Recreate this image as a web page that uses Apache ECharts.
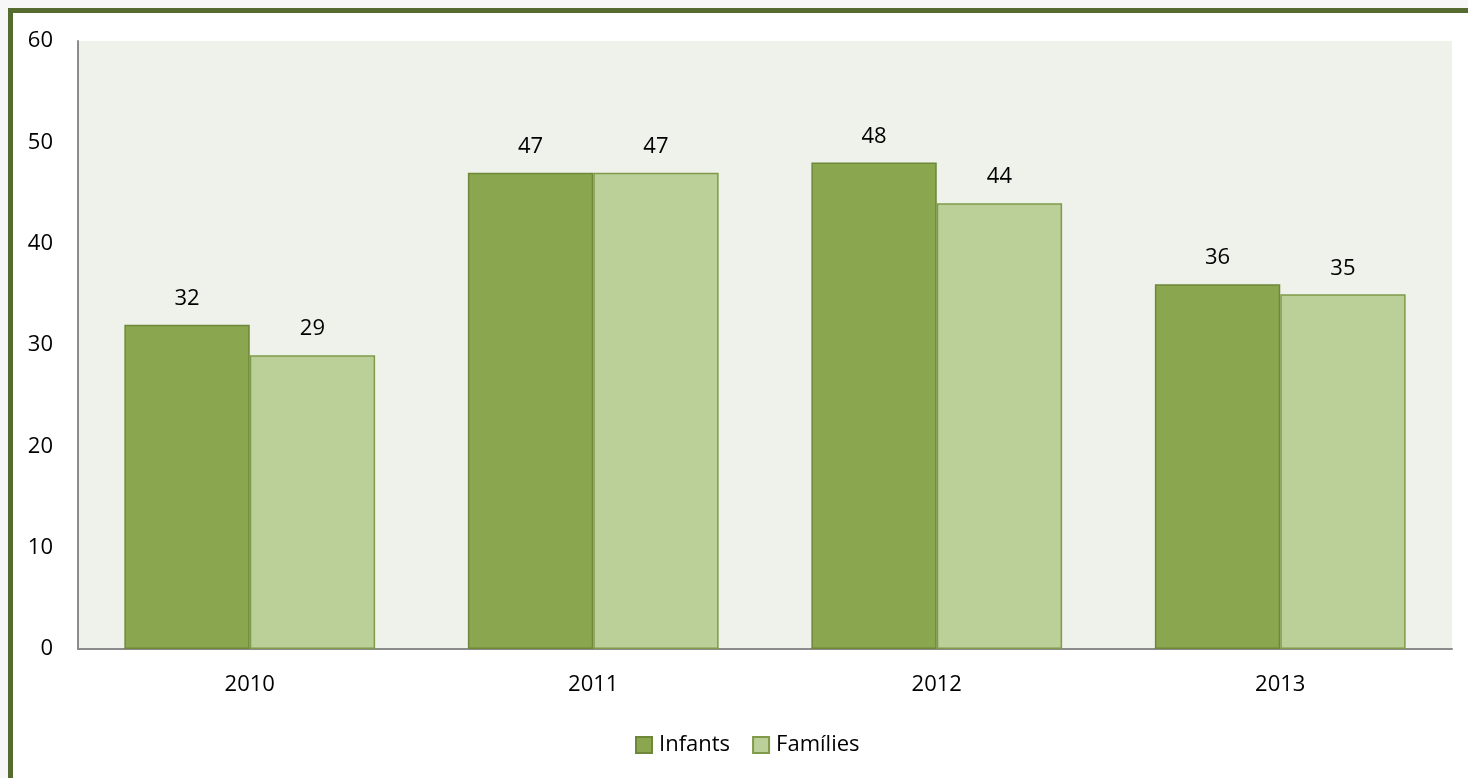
<!DOCTYPE html>
<html>
<head>
<meta charset="utf-8">
<script src="https://cdn.jsdelivr.net/npm/echarts@6/dist/echarts.min.js"></script>
<style>
html,body{margin:0;padding:0;width:1468px;height:778px;overflow:hidden;background:#f7f7f7;}
#frame{position:absolute;left:8px;top:8px;width:1480px;height:800px;border:5px solid #566b2f;background:#ffffff;}
#chart{position:absolute;left:0;top:0;width:1468px;height:778px;}
</style>
</head>
<body>
<div id="frame"></div>
<div id="chart"></div>
<script>
const categories = ['2010', '2011', '2012', '2013'];
const infants = [32, 47, 48, 36];
const families = [29, 47, 44, 35];
const seriesNames = ['Infants', 'Famílies'];

const chart = echarts.init(document.getElementById('chart'), null, {renderer: 'canvas'});
const font = 'Open Sans, Noto Sans, sans-serif';
chart.setOption({
  backgroundColor: 'transparent',
  animation: false,
  textStyle: {fontFamily: font},
  grid: {left: 78, top: 41, right: 16, bottom: 129, show: true, backgroundColor: '#eff2ea', borderWidth: 0},
  legend: {
    data: seriesNames,
    left: 630, top: 729,
    itemWidth: 16, itemHeight: 16, itemGap: 22,
    icon: 'rect',
    textStyle: {fontSize: 22, color: '#000', fontFamily: font, padding: [0,0,0,2]}
  },
  xAxis: {
    type: 'category', data: categories,
    axisLine: {lineStyle: {color: '#8c8c8c', width: 2}},
    axisTick: {show: false},
    axisLabel: {fontSize: 22, color: '#000', margin: 25, fontFamily: font}
  },
  yAxis: {
    type: 'value', min: 0, max: 60, interval: 10,
    axisLine: {show: true, lineStyle: {color: '#8c8c8c', width: 2}},
    axisTick: {show: false},
    splitLine: {show: false},
    axisLabel: {fontSize: 22, color: '#000', margin: 25, fontFamily: font}
  },
  series: [
    {
      name: seriesNames[0], type: 'bar', data: infants,
      barGap: '0%', barCategoryGap: '27%',
      itemStyle: {color: '#8aa64f', borderColor: '#6c8838', borderWidth: 1.5},
      label: {show: true, position: 'top', distance: 15, fontSize: 22, color: '#000', fontFamily: font}
    },
    {
      name: seriesNames[1], type: 'bar', data: families,
      itemStyle: {color: '#bbcf98', borderColor: '#7f9a48', borderWidth: 1.5},
      label: {show: true, position: 'top', distance: 15, fontSize: 22, color: '#000', fontFamily: font}
    }
  ]
});
</script>
</body>
</html>
